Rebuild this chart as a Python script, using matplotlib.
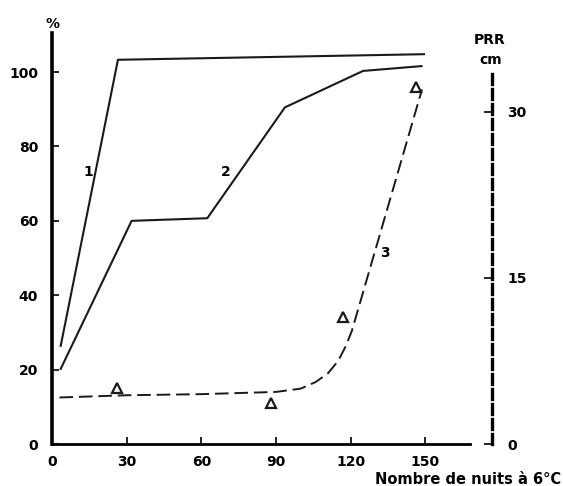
import matplotlib
matplotlib.use('Agg')
import matplotlib.pyplot as plt

# curve 1 and 2 : % (left axis)
x1 = [3.5, 26.5, 149.5]
y1 = [26.4, 103.3, 104.8]
x2 = [3.5, 32, 62.4, 93.6, 125, 148.5]
y2 = [20.2, 60, 60.7, 90.5, 100.3, 101.6]

# curve 3 : PRR in cm (right axis)
x3 = [3, 30, 60, 90, 100, 106, 111, 115, 118, 120.5, 148.7]
y3 = [4.2, 4.4, 4.5, 4.7, 5.0, 5.6, 6.4, 7.5, 8.8, 10.2, 32.0]
# measured PRR points (triangles)
xm = [26.2, 88.2, 117, 146.4]
ym = [5.1, 3.7, 11.5, 32.2]

xticks = [0, 30, 60, 90, 120, 150]
yticks = [0, 20, 40, 60, 80, 100]
rticks = [0, 15, 30]

plt.rcParams['font.family'] = 'DejaVu Sans'
plt.rcParams['font.weight'] = 'bold'

fig = plt.figure(figsize=(5.63, 4.86), dpi=100)
ax = fig.add_axes([52/563, 42/486, 418/563, 411/486])
ax.set_xlim(0, 168)
ax.set_ylim(0, 110.5)

ax.plot(x1, y1, color='#1a1a1a', lw=1.5)
ax.plot(x2, y2, color='#1a1a1a', lw=1.5)

for s in ['top', 'right']:
    ax.spines[s].set_visible(False)
ax.spines['left'].set_linewidth(2.6)
ax.spines['bottom'].set_linewidth(2.0)

ax.set_xticks(xticks)
ax.set_yticks(yticks)
ax.tick_params(axis='both', direction='in', length=5, width=1.2, labelsize=10)
ax.tick_params(axis='y', pad=10)
ax.tick_params(axis='x', pad=8)

ax.text(14.5, 73, '1', fontsize=10, ha='center', va='center')
ax.text(70, 73, '2', fontsize=10, ha='center', va='center')
ax.text(133.7, 51.3, '3', fontsize=10, ha='center', va='center')
ax.text(0, 113, '%', fontsize=10, ha='center', va='center', clip_on=False)

# right axis
ax2 = ax.twinx()
ax2.set_ylim(0, 37.1)
for s in ['top', 'left', 'bottom']:
    ax2.spines[s].set_visible(False)
sp = ax2.spines['right']
sp.set_position(('axes', 1.052))
sp.set_linestyle((0, (3, 1.5)))
sp.set_linewidth(2.4)
sp.set_bounds(0, 33.6)
ax2.set_yticks(rticks)
ax2.tick_params(axis='y', direction='in', length=6, width=1.2, labelsize=10, pad=11)

ax2.plot(x3, y3, color='#1a1a1a', lw=1.4, dashes=(7, 3))
ax2.plot(xm, ym, linestyle='none', marker='^', markersize=6.5,
         markerfacecolor='white', markeredgecolor='#1a1a1a', markeredgewidth=1.6)

fig.text(490/563, 1 - 40/486, 'PRR', fontsize=10, ha='center', va='center')
fig.text(491/563, 1 - 60/486, 'cm', fontsize=10, ha='center', va='center')
fig.text(561/563, 1 - 479/486, 'Nombre de nuits à 6°C', fontsize=10.5,
         ha='right', va='center')

fig.savefig('out.png', dpi=100)
